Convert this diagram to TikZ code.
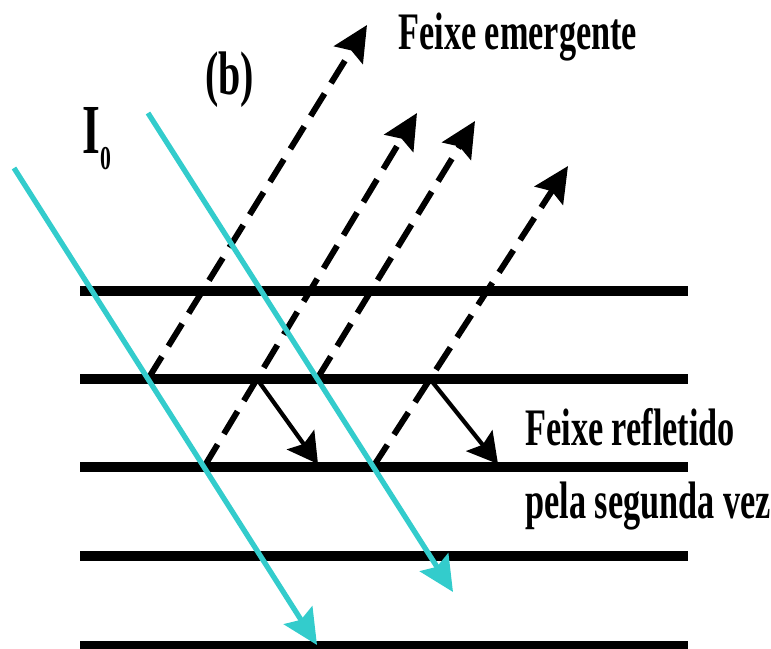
\documentclass[tikz,border=0pt]{standalone}
\usepackage{fontspec}
\usepackage{tikz}
\usetikzlibrary{arrows.meta}

\newfontfamily\labelfont[FakeStretch=0.65]{Liberation Serif}
\definecolor{beamcyan}{RGB}{51,204,204}

\tikzset{
    layer/.style={line width=5.7pt},
    incident/.style={beamcyan, line width=3pt, -{Stealth[length=20pt, width=19pt, inset=3pt]}},
    emergent/.style={line width=3.4pt, dash pattern=on 15pt off 7pt, -{Stealth[length=20pt, width=19pt, inset=3pt]}},
    reflected/.style={line width=2.4pt, -{Stealth[length=17pt, width=19pt, inset=3pt]}},
    lbl/.style={inner sep=0pt, font={\labelfont\bfseries\fontsize{30}{41}\selectfont}}
}

\begin{document}
\begin{tikzpicture}[x=0.02cm, y=-0.02cm]
    \useasboundingbox (0,0) rectangle (771,649);

    % layers
    \draw[layer] (80,291) -- (688,291);
    \draw[layer] (80,379) -- (688,379);
    \draw[layer] (80,467) -- (688,467);
    \draw[layer] (80,556) -- (688,556);
    \draw[layer] (80,646) -- (688,646);

    % points on the beams
    \coordinate (in1) at (14,168);
    \coordinate (in2) at (148,113);
    \coordinate (hit1) at (148,379);
    \coordinate (hit2) at (204,467);
    \coordinate (hit3) at (317,379);
    \coordinate (hit4) at (373,467);
    \coordinate (back1) at (257,379);
    \coordinate (back2) at (430,379);
    \coordinate (out1) at (317,645);
    \coordinate (out2) at (453,592);
    \coordinate (em1) at (367,25);
    \coordinate (em2) at (417,113);
    \coordinate (em3) at (475,121);
    \coordinate (em4) at (568,166);
    \coordinate (rf1) at (318,464);
    \coordinate (rf2) at (498,464);

    \draw[emergent] (hit1) -- (em1);
    \draw[emergent] (hit2) -- (em2);
    \draw[emergent] (hit3) -- (em3);
    \draw[emergent] (hit4) -- (em4);

    \draw[reflected] (back1) -- (rf1);
    \draw[reflected] (back2) -- (rf2);

    \draw[incident] (in1) -- (out1);
    \draw[incident] (in2) -- (out2);

    \node (emergente) [lbl, anchor=base west] at (398,50) {Feixe emergente};
    \node (caso) [lbl, anchor=base west, font={\labelfont\bfseries\fontsize{35}{40}\selectfont}] at (205,94) {(b)};
    \node (intensidade) [lbl, anchor=base west, font={\labelfont\bfseries\fontsize{40}{45}\selectfont}] at (82,153)
        {I\raisebox{-9.6pt}{\fontsize{19}{19}\selectfont 0}};
    \node (refletido) [lbl, anchor=base west] at (525,445) {Feixe refletido};
    \node (segunda) [lbl, anchor=base west] at (525,518) {pela segunda vez};
\end{tikzpicture}
\end{document}
